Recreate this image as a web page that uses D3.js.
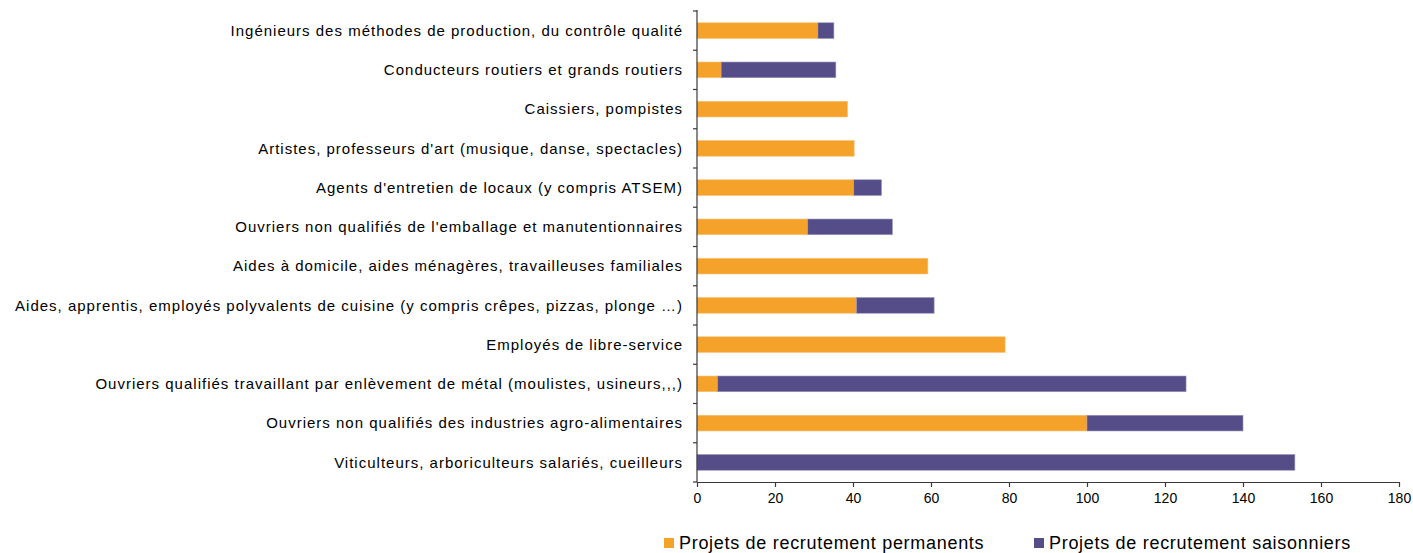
<!DOCTYPE html>
<html>
<head>
<meta charset="utf-8">
<script src="https://cdn.jsdelivr.net/npm/d3@7"></script>
<style>
  body { margin: 0; background: #fff; }
  svg text { font-family: "Liberation Sans", Arial, sans-serif; fill: #000; }
</style>
</head>
<body>
<div id="chart"></div>
<script>
// categories, top to bottom
var categories = [
  "Ingénieurs des méthodes de production, du contrôle qualité",
  "Conducteurs routiers et grands routiers",
  "Caissiers, pompistes",
  "Artistes, professeurs d'art (musique, danse, spectacles)",
  "Agents d'entretien de locaux (y compris ATSEM)",
  "Ouvriers non qualifiés de l'emballage et manutentionnaires",
  "Aides à domicile, aides ménagères, travailleuses familiales",
  "Aides, apprentis, employés polyvalents de cuisine (y compris crêpes, pizzas, plonge …)",
  "Employés de libre-service",
  "Ouvriers qualifiés travaillant par enlèvement de métal (moulistes, usineurs,,,)",
  "Ouvriers non qualifiés des industries agro-alimentaires",
  "Viticulteurs, arboriculteurs salariés, cueilleurs"
];
var permanents = [31, 6.2, 38.6, 40.3, 40.2, 28.4, 59.2, 40.9, 79, 5.3, 100, 0];
var saisonniers = [4.1, 29.4, 0, 0, 7.1, 21.7, 0, 19.9, 0, 120.1, 40, 153.3];
var seriesNames = ["Projets de recrutement permanents", "Projets de recrutement saisonniers"];
var xTicks = [0, 20, 40, 60, 80, 100, 120, 140, 160, 180];

var colors = ["#F5A22A", "#544D87"];
var borders = ["#F8C27A", "#9A95BC"];

var margin = {top: 11, right: 14, bottom: 71, left: 697},
    width = 1413 - margin.left - margin.right,
    height = 553 - margin.top - margin.bottom;

var svg = d3.select("#chart")
  .append("svg")
    .attr("width", 1413)
    .attr("height", 553)
  .append("g")
    .attr("transform", "translate(" + margin.left + "," + margin.top + ")");

var x = d3.scaleLinear().domain([0, 180]).range([0, 702]);
var y = d3.scaleBand().domain(categories).range([0, height]).paddingInner(0.6).paddingOuter(0.3);

var rows = categories.map(function(c, i) {
  return {cat: c, p: permanents[i], s: saisonniers[i]};
});

// permanents
svg.selectAll(".barP")
  .data(rows)
  .enter().append("rect")
    .attr("x", x(0))
    .attr("y", function(d) { return y(d.cat); })
    .attr("width", function(d) { return x(d.p) - x(0); })
    .attr("height", y.bandwidth())
    .attr("fill", colors[0])
    .attr("stroke", function(d) { return d.p > 0 ? borders[0] : "none"; })
    .attr("stroke-width", 0.6);

// saisonniers stacked
svg.selectAll(".barS")
  .data(rows)
  .enter().append("rect")
    .attr("x", function(d) { return x(d.p); })
    .attr("y", function(d) { return y(d.cat); })
    .attr("width", function(d) { return x(d.p + d.s) - x(d.p); })
    .attr("height", y.bandwidth())
    .attr("fill", colors[1])
    .attr("stroke", function(d) { return d.s > 0 ? borders[1] : "none"; })
    .attr("stroke-width", 0.6);

// y axis: line + ticks between categories
var yAx = svg.append("g");
yAx.append("line")
  .attr("x1", 0).attr("x2", 0)
  .attr("y1", -1).attr("y2", height)
  .attr("stroke", "#3a3a3a").attr("stroke-width", 1.2);
var step = y.step();
yAx.selectAll(".yt")
  .data(d3.range(categories.length + 1))
  .enter().append("line")
    .attr("x1", -4).attr("x2", 0)
    .attr("y1", function(i) { return i * step; })
    .attr("y2", function(i) { return i * step; })
    .attr("stroke", "#3a3a3a").attr("stroke-width", 1.2);
yAx.selectAll(".ylab")
  .data(categories)
  .enter().append("text")
    .attr("x", -14)
    .attr("y", function(d) { return y(d) + y.bandwidth() / 2; })
    .attr("dy", "0.35em")
    .attr("text-anchor", "end")
    .style("font-size", "15px")
    .style("letter-spacing", "1px")
    .text(function(d) { return d; });

// x axis
var xAxis = svg.append("g")
  .attr("transform", "translate(0," + height + ")")
  .call(d3.axisBottom(x).tickValues(xTicks).tickSize(5).tickSizeOuter(0).tickPadding(6));
xAxis.select(".domain").attr("stroke", "#3a3a3a").attr("stroke-width", 1.2);
xAxis.selectAll(".tick line").attr("stroke", "#3a3a3a").attr("stroke-width", 1.2);
xAxis.selectAll(".tick text")
  .style("font-family", "'Liberation Sans', Arial, sans-serif")
  .style("font-size", "14px")
  .attr("fill", "#000");

// legend
var legendX = [664, 1034];
var legend = d3.select("svg").append("g");
seriesNames.forEach(function(name, i) {
  legend.append("rect")
    .attr("x", legendX[i]).attr("y", 538)
    .attr("width", 10).attr("height", 10)
    .attr("fill", colors[i]);
  legend.append("text")
    .attr("x", legendX[i] + 15).attr("y", 543)
    .attr("dy", "0.35em")
    .style("font-size", "18px")
    .style("letter-spacing", "0.7px")
    .text(name);
});
</script>
</body>
</html>
